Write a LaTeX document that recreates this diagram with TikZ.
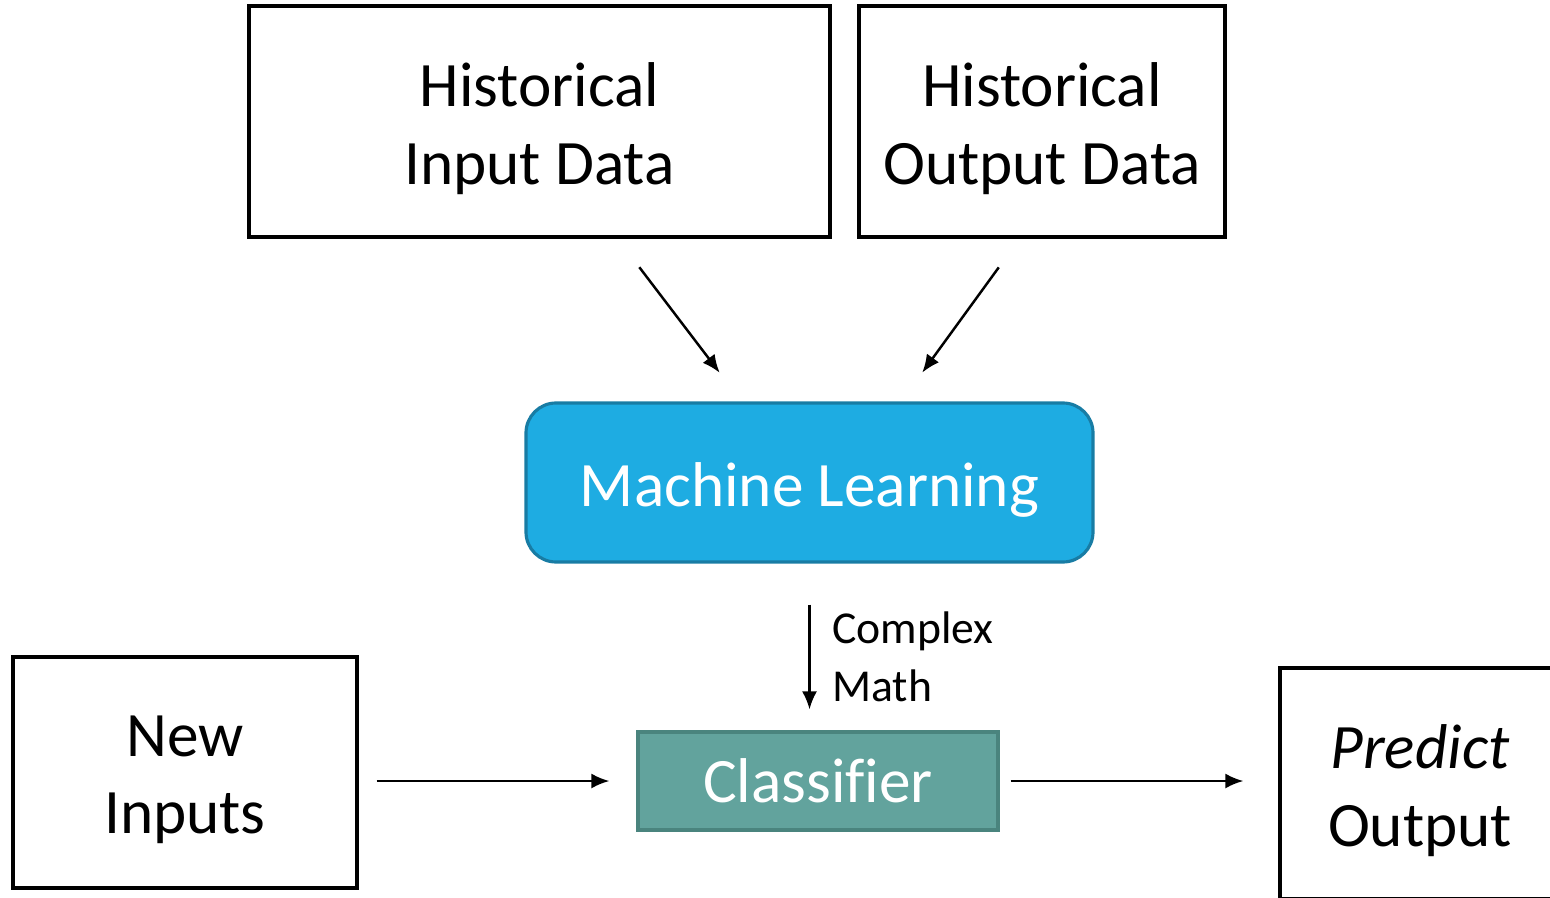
\documentclass[tikz,border=0pt]{standalone}
\usepackage{fontspec}
\setmainfont{Carlito}[Ligatures=CommonOff]
\usetikzlibrary{positioning}
\usetikzlibrary{calc,arrows.meta}
\definecolor{mlblue}{RGB}{30,172,226}
\definecolor{mlblueline}{RGB}{24,124,164}
\definecolor{clfgreen}{RGB}{98,163,157}
\definecolor{clfgreenline}{RGB}{74,132,126}
\begin{document}
\begin{tikzpicture}[
	databox/.style={rectangle, draw=black, line width=0.9pt},
	boxtext/.style={align=center, font=\fontsize{18}{22}\selectfont, yshift=-0.07cm},
	flow/.style={-{Latex[length=0.18cm,width=0.15cm]}, line width=0.7pt}]
			\clip (0,0) rectangle (15.5,8.97);
			\node[databox, minimum width=5.81cm, minimum height=2.31cm] (histin) at (5.395,7.755) {};
			\node[boxtext] (histin-text) at (histin.center) {Historical\\Input Data};
			\node[databox, minimum width=3.66cm, minimum height=2.31cm] (histout) at (10.42,7.755) {};
			\node[boxtext] (histout-text) at (histout.center) {Historical\\Output Data};
			\node[rectangle, rounded corners=0.3cm, fill=mlblue, draw=mlblueline, line width=0.9pt, minimum width=5.67cm, minimum height=1.59cm] (ml) at (8.095,4.145) {};
			\node[boxtext, text=white] (ml-text) at (ml.center) {Machine Learning};
			\node[rectangle, fill=clfgreen, draw=clfgreenline, line width=0.9pt, minimum width=3.6cm, minimum height=0.98cm, text=white, font=\fontsize{18}{22}\selectfont] (clf) at (8.18,1.16) {Classifier};
			\node[databox, minimum width=3.44cm, minimum height=2.31cm] (newin) at (1.85,1.245) {};
			\node[boxtext] (newin-text) at (newin.center) {New\\Inputs};
			\node[databox, minimum width=2.8cm, minimum height=2.31cm] (pred) at (14.2,1.135) {};
			\node[boxtext] (pred-text) at (pred.center) {\textit{Predict}\\Output};
			\draw[flow, shorten <=0.36cm, shorten >=0.36cm] ([xshift=0.78cm]histin.south) -- ([xshift=-0.68cm]ml.north);
			\draw[flow, shorten <=0.356cm, shorten >=0.356cm] ([xshift=-0.223cm]histout.south) -- ([xshift=0.918cm]ml.north);
			\draw[flow, shorten <=0.41cm, shorten >=0.21cm] (ml.south) -- (ml.south |- clf.north) node[midway, right=0.1cm, yshift=-0.1cm, align=left, font=\fontsize{13}{16.5}\selectfont] (math) {Complex\\Math};
			\draw[flow, shorten <=0.18cm, shorten >=0.27cm] (newin.east |- clf.west) -- (clf.west);
			\draw[flow, shorten <=0.11cm, shorten >=0.35cm] (clf.east) -- (clf.east -| pred.west);
\end{tikzpicture}
\end{document}
